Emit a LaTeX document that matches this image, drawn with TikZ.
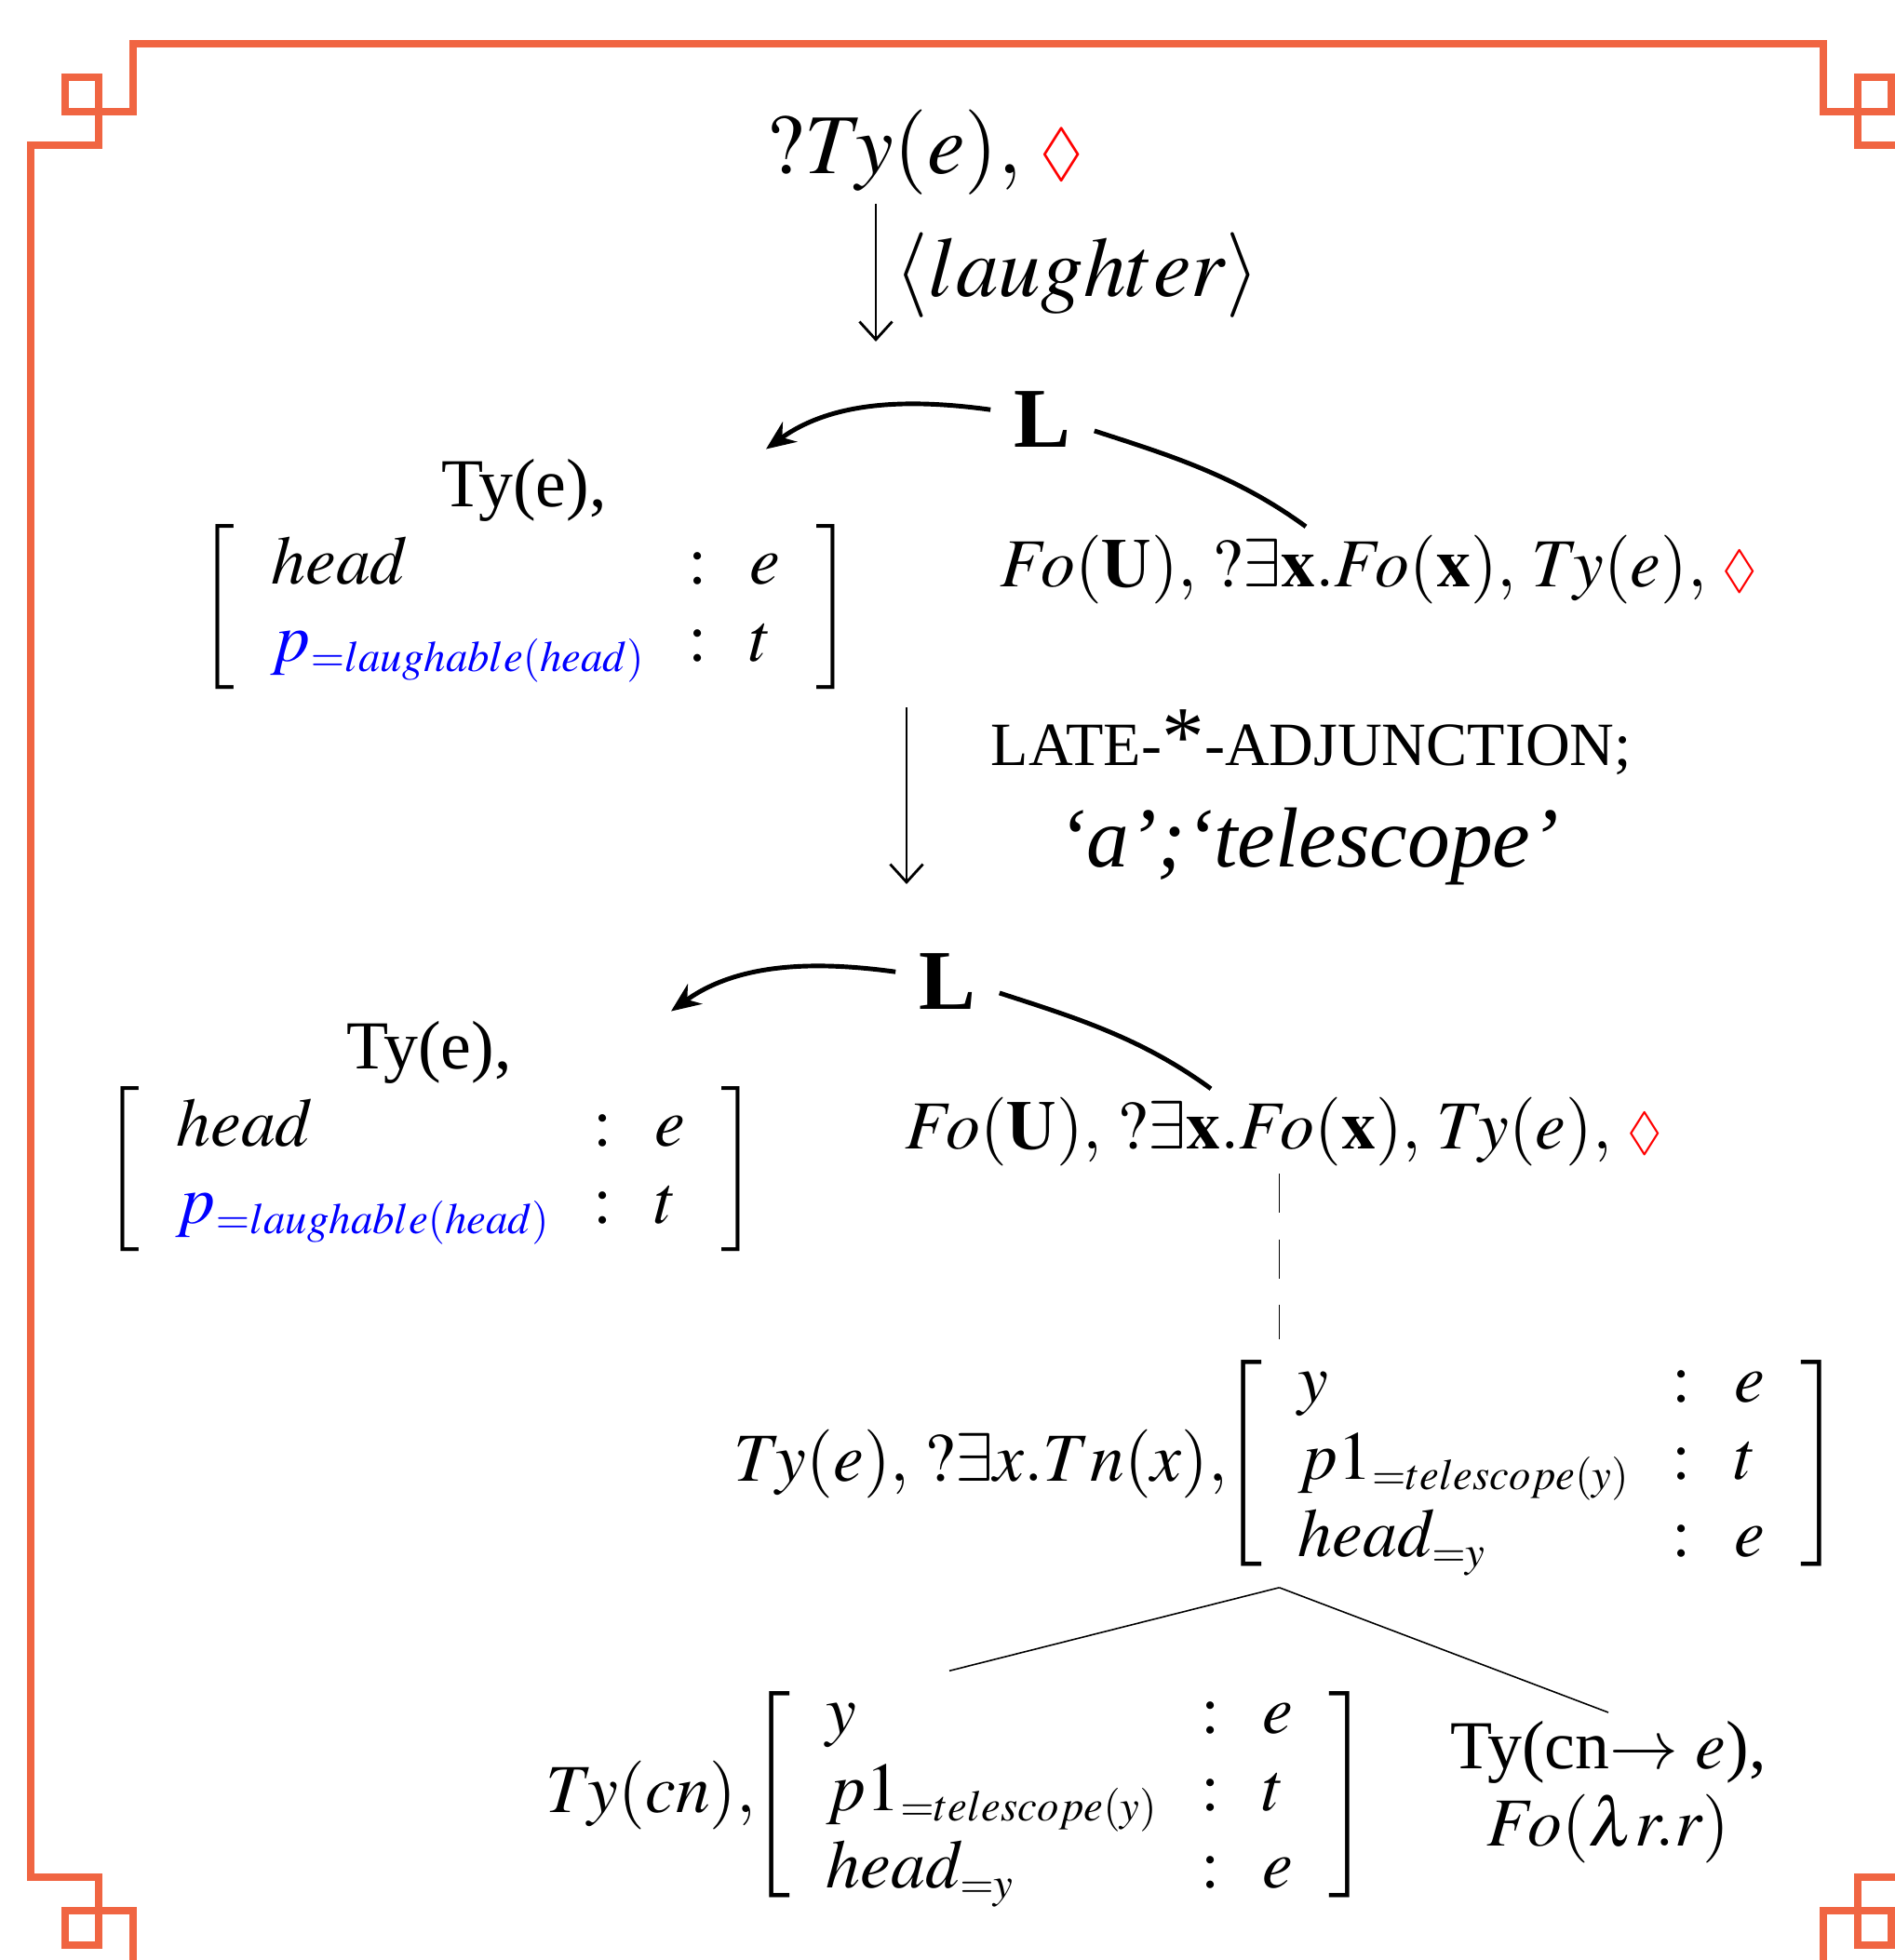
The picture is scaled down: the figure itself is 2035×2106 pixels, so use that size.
\documentclass[tikz,border=0pt]{standalone}
\usepackage{amsmath,amssymb}
\usepackage{mathptmx}
\usepackage[no-math]{fontspec}
\setmainfont{Liberation Serif}
\usepackage{graphicx}
\usepackage{xcolor}
\usepackage{tikz}
\usetikzlibrary{arrows.meta}

\DeclareMathSizes{21}{21}{13.3}{10}
\definecolor{framec}{RGB}{240,101,66}
\newcommand{\dmd}{\textcolor{red}{\scalebox{0.76}{$\lozenge$}}}
\newcommand{\ttrec}[2][901]{\delimiterfactor=#1\delimitershortfall=12pt\hspace{-4pt}%
  \left[\begin{array}{@{\hspace{11pt}}l@{\hspace{13pt}}c@{\hspace{13pt}}l@{\hspace{11pt}}}#2\end{array}\right]\hspace{-5pt}}

\tikzset{
  big/.style={font=\fontsize{26}{31}\selectfont, inner sep=0pt},
  med/.style={font=\fontsize{21}{23.6}\selectfont, inner sep=2.3pt},
  capsmall/.style={font=\fontsize{18.8}{22}\selectfont, inner sep=0pt},
  linkL/.style={font=\fontsize{26}{31}\selectfont\bfseries, inner sep=7pt},
  larrow/.style={line width=1.4pt, -{Stealth[length=9pt,width=7.5pt]}},
  darrow/.style={line width=0.8pt, -{Straight Barb[length=5.5pt,width=10pt]}},
  tline/.style={line width=0.45pt},
  fence/.style={draw=framec, line width=2.3pt}
}

\begin{document}
\begin{tikzpicture}[x=0.01cm, y=-0.01cm]
    \useasboundingbox (0,0) rectangle (2035,2106);

    % Frame with corner knots
    \foreach \sx/\sy in {1/1,-1/1,1/-1,-1/-1}{
        \begin{scope}[shift={(1051,1086.5)}, xscale=\sx, yscale=\sy]
            \draw[fence] (-1018,0) -- (-1018,-930.5) -- (-945,-930.5) -- (-945,-966.5)
                -- (-981,-966.5) -- (-981,-1003.5) -- (-945,-1003.5) -- (-945,-966.5)
                -- (-908,-966.5) -- (-908,-1039.5) -- (0,-1039.5);
        \end{scope}
    }

    % Start node and laughter step
    \node[big, anchor=base west] (Q) at (823,187) {$?Ty(e),\,\dmd$};
    \coordinate (d1a) at (941,219);
    \coordinate (d1b) at (941,367);
    \draw[darrow] (d1a) -- (d1b);
    \node[big, anchor=base west] (lgh) at (961,318) {$\langle laughter\rangle$};

    % First LINK structure
    \node[linkL, anchor=base] (L1) at (1120,480) {L};
    \node[med, align=center, anchor=south west] (A1) at (219,750)
        {Ty(e),\\$\ttrec{head & : & e\\ \color{blue}p_{=laughable(head)} & : & t}$};
    \node[med, anchor=base west] (F1) at (1066,630)
        {$Fo(\mathbf{U}),\,?\exists\mathbf{x}.Fo(\mathbf{x}),\,Ty(e),\,\dmd$};
    \draw[larrow] (L1.170) .. controls +(-87,-12) and +(72,-52) .. ([shift={(260,-2)}]A1.north);
    \draw[line width=1.4pt] (L1.-13) .. controls +(80,26) and +(-75,-55) .. ([shift={(337,0)}]F1.north west);

    % Late adjunction step
    \coordinate (d2a) at (974,760);
    \coordinate (d2b) at (974,950);
    \draw[darrow] (d2a) -- (d2b);
    \node[capsmall, anchor=base west] (adj) at (1064,822)
        {LATE-{\fontsize{26}{31}\selectfont *}-ADJUNCTION;};
    \node[big, anchor=base west] (wds) at (1136,931) {\itshape ‘a’;‘telescope’};

    % Second LINK structure
    \begin{scope}[shift={(-102,604)}]
        \node[linkL, anchor=base] (L2) at (1120,480) {L};
        \node[med, align=center, anchor=south west] (A2) at (219,750)
            {Ty(e),\\$\ttrec{head & : & e\\ \color{blue}p_{=laughable(head)} & : & t}$};
        \node[med, anchor=base west] (F2) at (1066,630)
            {$Fo(\mathbf{U}),\,?\exists\mathbf{x}.Fo(\mathbf{x}),\,Ty(e),\,\dmd$};
        \draw[larrow] (L2.170) .. controls +(-87,-12) and +(72,-52) .. ([shift={(260,-2)}]A2.north);
        \draw[line width=1.4pt] (L2.-13) .. controls +(80,26) and +(-75,-55) .. ([shift={(337,0)}]F2.north west);
    \end{scope}

    % Unfixed node and its daughters
    \node[med, anchor=base west] (N3) at (780,1591)
        {$Ty(e),\,?\exists x.Tn(x),\ttrec[850]{y & : & e\\ p1_{=telescope(y)} & : & t\\ head_{=y} & : & e}$};
    \draw[line width=0.55pt, dash pattern=on 12pt off 8pt] (N3.north |- F2.south) -- (N3.north);

    \node[med, anchor=base west] (B) at (578,1947)
        {$Ty(cn),\ttrec[850]{y & : & e\\ p1_{=telescope(y)} & : & t\\ head_{=y} & : & e}$};
    \node[med, align=center, anchor=north] (R) at (1728,1840)
        {Ty(cn$\rightarrow$ $e$),\\ $Fo(\lambda r.r)$};
    \draw[tline] (N3.south) -- (B.north);
    \draw[tline] (N3.south) -- (R.north);
\end{tikzpicture}
\end{document}
